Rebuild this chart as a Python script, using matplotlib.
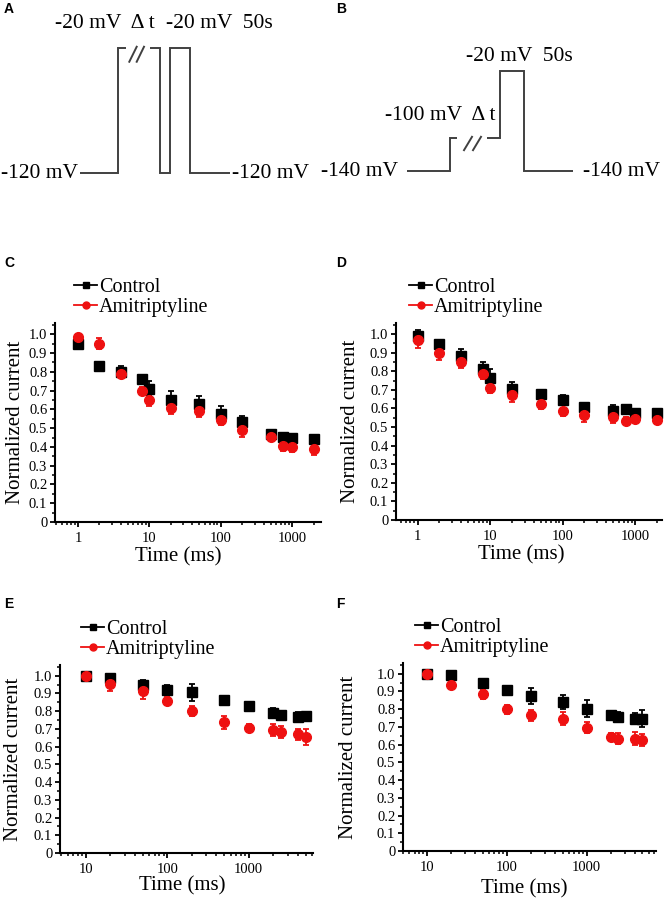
import matplotlib
matplotlib.use('Agg')
import matplotlib.pyplot as plt
from matplotlib.lines import Line2D
from matplotlib.ticker import LogLocator, MultipleLocator, NullFormatter, FuncFormatter, FixedLocator

W, H = 666, 902
SERIF = 'Liberation Serif'
RED = '#ee1111'
GREY = '#404040'

# voltage protocols (arbitrary time units, mV)
a_edges = [0, 38, 80, 90, 110, 150]
a_volts = [-120, -20, -120, -20, -120]
b_edges = [0, 43, 93, 117, 166]
b_volts = [-140, -100, -20, -140]

# recovery data, panels C and D
t_short = [1, 2, 4, 8, 10, 20, 50, 100, 200, 500, 750, 1000, 2000]
c_ctrl = [0.95, 0.83, 0.80, 0.76, 0.71, 0.65, 0.63, 0.575, 0.535, 0.47, 0.455, 0.45, 0.44]
c_ctrl_err = [0.01, 0.005, 0.03, 0.01, 0.04, 0.05, 0.04, 0.045, 0.03, 0.02, 0.01, 0.01, 0.01]
c_ami = [0.985, 0.95, 0.79, 0.70, 0.65, 0.605, 0.59, 0.545, 0.49, 0.455, 0.405, 0.40, 0.387]
c_ami_err = [0.015, 0.03, 0.02, 0.02, 0.03, 0.03, 0.03, 0.03, 0.035, 0.025, 0.025, 0.025, 0.03]

d_ctrl = [0.99, 0.947, 0.88, 0.81, 0.765, 0.705, 0.68, 0.645, 0.61, 0.587, 0.595, 0.578, 0.578]
d_ctrl_err = [0.03, 0.02, 0.04, 0.04, 0.05, 0.04, 0.02, 0.025, 0.015, 0.03, 0.025, 0.015, 0.01]
d_ami = [0.968, 0.897, 0.85, 0.787, 0.71, 0.67, 0.626, 0.587, 0.564, 0.555, 0.535, 0.543, 0.537]
d_ami_err = [0.04, 0.035, 0.03, 0.03, 0.025, 0.035, 0.03, 0.03, 0.035, 0.035, 0.02, 0.01, 0.02]

# recovery data, panels E and F
t_long = [10, 20, 50, 100, 200, 500, 1000, 2000, 2500, 4000, 5000]
e_ctrl = [1.0, 0.987, 0.948, 0.92, 0.905, 0.86, 0.827, 0.79, 0.78, 0.767, 0.77]
e_ctrl_err = [0.0, 0.01, 0.03, 0.03, 0.05, 0.02, 0.025, 0.03, 0.02, 0.03, 0.02]
e_ami = [1.0, 0.954, 0.916, 0.857, 0.80, 0.736, 0.706, 0.693, 0.683, 0.669, 0.655]
e_ami_err = [0.0, 0.04, 0.05, 0.02, 0.03, 0.035, 0.02, 0.035, 0.035, 0.03, 0.045]

f_ctrl = [1.0, 0.99, 0.947, 0.906, 0.872, 0.84, 0.803, 0.764, 0.756, 0.747, 0.747]
f_ctrl_err = [0.0, 0.005, 0.01, 0.015, 0.045, 0.04, 0.05, 0.015, 0.03, 0.03, 0.05]
f_ami = [1.0, 0.934, 0.884, 0.799, 0.765, 0.747, 0.696, 0.643, 0.634, 0.634, 0.625]
f_ami_err = [0.0, 0.01, 0.025, 0.025, 0.03, 0.035, 0.03, 0.025, 0.03, 0.035, 0.035]

legend_labels = ['Control', 'Amitriptyline']


def px_axes(fig, left, top, right, bottom):
    return fig.add_axes([left / W, 1 - bottom / H, (right - left) / W, (bottom - top) / H])


def panel_letter(fig, x, y, s):
    fig.text(x / W, 1 - y / H, s, fontsize=10, fontweight='bold',
             family='Liberation Sans', ha='left', va='center')


def draw_protocol(ax, edges, volts, gap, slashes, labels, xlim, ylim):
    ax.stairs(volts, edges, baseline=None, color=GREY, lw=1.4, clip_on=False)
    ax.plot(gap[0], gap[1], color='white', lw=4, solid_capstyle='butt', clip_on=False)
    for xs, ys in slashes:
        ax.plot(xs, ys, color=GREY, lw=1.4, clip_on=False)
    for x, y, s, ha in labels:
        ax.text(x, y, s, ha=ha, va='center', fontsize=15.5, family=SERIF)
    ax.set_xlim(xlim)
    ax.set_ylim(ylim)
    ax.axis('off')


def draw_recovery(ax, t, ctrl, ctrl_err, ami, ami_err, xlim, xticks, ylab_dx, xlab_dy, xlab_dx, leg_px):
    ax.errorbar(t, ctrl, yerr=ctrl_err, fmt='s', color='black', ms=6.5,
                capsize=2.5, elinewidth=1.3, capthick=1.3, clip_on=False)
    ax.errorbar(t, ami, yerr=ami_err, fmt='o', color=RED, ms=7,
                capsize=2.5, elinewidth=1.3, capthick=1.3, clip_on=False)
    ax.set_xscale('log')
    ax.set_xlim(xlim)
    ax.set_ylim(0, 1.06)
    for side in ['top', 'right']:
        ax.spines[side].set_visible(False)
    for side in ['left', 'bottom']:
        ax.spines[side].set_linewidth(1.5)
    ax.xaxis.set_major_locator(FixedLocator(xticks))
    ax.xaxis.set_major_formatter(FuncFormatter(lambda v, p: '%d' % v))
    ax.xaxis.set_minor_locator(LogLocator(base=10, subs=range(2, 10), numticks=20))
    ax.xaxis.set_minor_formatter(NullFormatter())
    ax.yaxis.set_major_locator(MultipleLocator(0.1))
    ax.yaxis.set_minor_locator(MultipleLocator(0.05))
    ax.yaxis.set_major_formatter(FuncFormatter(lambda v, p: '0' if abs(v) < 1e-9 else '%.1f' % v))
    ax.tick_params(which='major', direction='out', length=3.5, width=1.3, labelsize=10.5, pad=2)
    ax.tick_params(which='minor', direction='out', length=2, width=1.1)
    ax.tick_params(axis='x', which='major', pad=4)
    for lab in ax.get_xticklabels() + ax.get_yticklabels():
        lab.set_family(SERIF)

    bbox = ax.get_position()
    aw, ah = bbox.width * W, bbox.height * H
    ax.set_ylabel('Normalized current', fontsize=15, family=SERIF)
    ax.yaxis.set_label_coords(ylab_dx / aw, 0.5)
    ax.set_xlabel('Time (ms)', fontsize=15, family=SERIF)
    ax.xaxis.set_label_coords(0.5 + xlab_dx / aw, -xlab_dy / ah)

    handles = [Line2D([0], [0], color='black', marker='s', ms=4.5, lw=1.3),
               Line2D([0], [0], color=RED, marker='o', ms=5, lw=1.3)]
    lx, ly = leg_px
    ax.legend(handles, legend_labels, loc='upper left', frameon=False,
              bbox_to_anchor=(lx / aw, 1 + ly / ah), borderaxespad=0, borderpad=0,
              handlelength=1.15, handletextpad=0.1, labelspacing=0.02,
              prop={'family': SERIF, 'size': 14.5})


fig = plt.figure(figsize=(W / 100, H / 100), dpi=100)

# A and B: voltage protocols
ax_a = px_axes(fig, 80, 48, 230, 173)
draw_protocol(ax_a, a_edges, a_volts,
              ([46, 70], [-20, -20]),
              [([49.3, 56.7], [-31, -19]), ([56.7, 64], [-31, -19])],
              [(-2, -120, '-120 mV', 'right'), (152, -120, '-120 mV', 'left'),
               (25, 0, '-20 mV  Δ t', 'center'), (139, 0, '-20 mV  50s', 'center')],
              (0, 150), (-120, -20))
ax_b = px_axes(fig, 407, 71, 573, 171)
draw_protocol(ax_b, b_edges, b_volts,
              ([50, 80], [-100, -100]),
              [([57, 65], [-115, -99]), ([66, 74], [-115, -99])],
              [(-9, -140, '-140 mV', 'right'), (176, -140, '-140 mV', 'left'),
               (33, -73, '-100 mV  Δ t', 'center'), (112, -3, '-20 mV  50s', 'center')],
              (0, 166), (-140, -20))

# C - F: recovery curves
ax_c = px_axes(fig, 55, 323, 321, 522)
draw_recovery(ax_c, t_short, c_ctrl, c_ctrl_err, c_ami, c_ami_err,
              (0.477, 2540), [1, 10, 100, 1000], -30, 25, -10, (19, 45))
ax_d = px_axes(fig, 396, 323, 662, 520)
draw_recovery(ax_d, t_short, d_ctrl, d_ctrl_err, d_ami, d_ami_err,
              (0.505, 2350), [1, 10, 100, 1000], -36, 25, -8, (13, 45))
ax_e = px_axes(fig, 60, 665, 313, 853)
draw_recovery(ax_e, t_long, e_ctrl, e_ctrl_err, e_ami, e_ami_err,
              (4.8, 6170), [10, 100, 1000], -37, 23, -4, (21, 45))
ax_f = px_axes(fig, 403, 663, 656, 851)
draw_recovery(ax_f, t_long, f_ctrl, f_ctrl_err, f_ami, f_ami_err,
              (5.0, 7400), [10, 100, 1000], -45, 28, -5, (12, 45))

panel_letter(fig, 4, 9, 'A')
panel_letter(fig, 336, 9, 'B')
panel_letter(fig, 4, 263, 'C')
panel_letter(fig, 336, 263, 'D')
panel_letter(fig, 4, 604, 'E')
panel_letter(fig, 336, 604, 'F')

fig.savefig('out.png', dpi=100)
